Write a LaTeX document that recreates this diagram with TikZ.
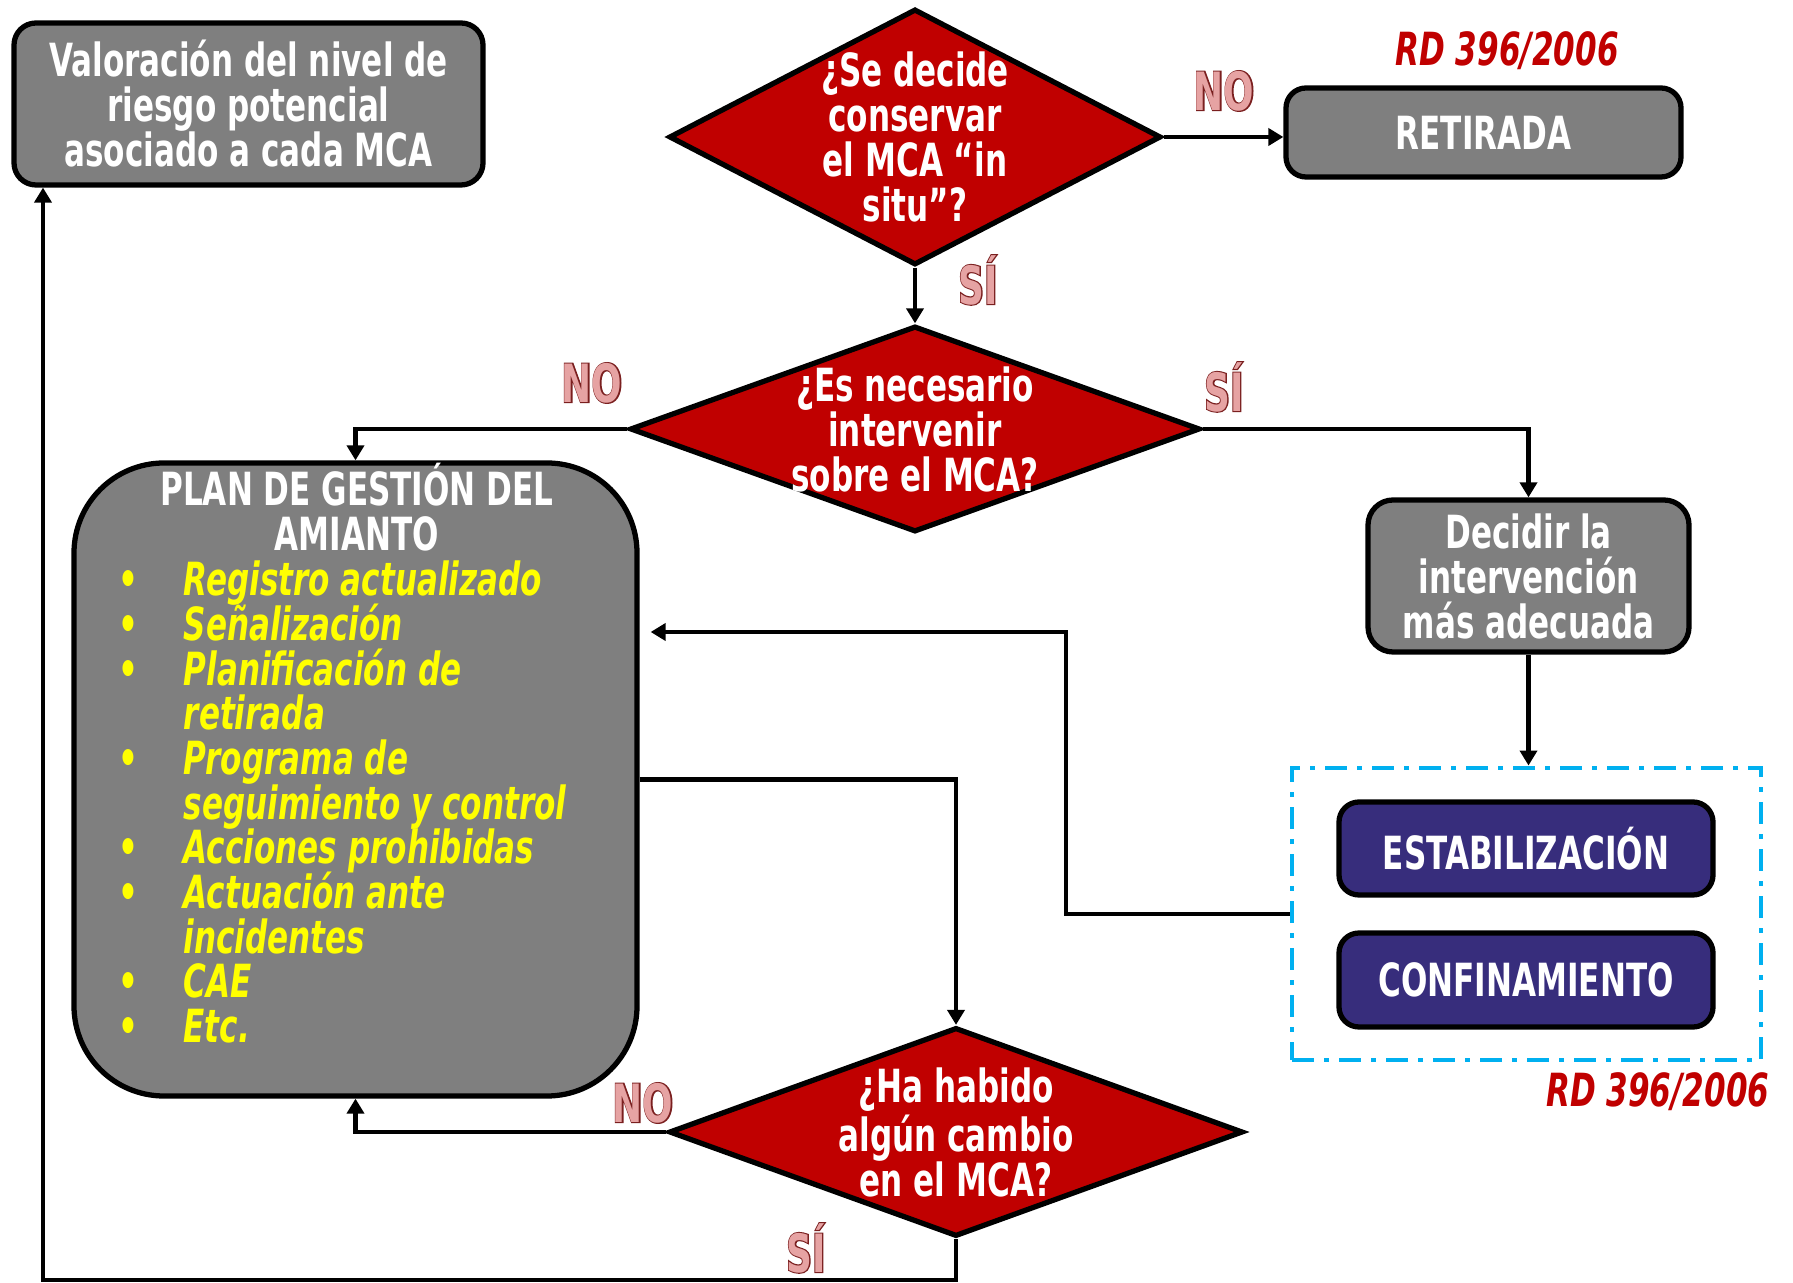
\documentclass[tikz,border=0pt]{standalone}
\usepackage{fontspec}
\setmainfont{DejaVu Sans}[FakeStretch=0.68]
\newfontfamily\lbloutline{DejaVu Sans}[FakeStretch=0.68, FakeBold=4]
\usetikzlibrary{shapes.geometric,positioning,arrows.meta}

\definecolor{boxgray}{HTML}{7F7F7F}
\definecolor{decred}{HTML}{C00000}
\definecolor{plumblue}{HTML}{372D7C}
\definecolor{dashcyan}{HTML}{00B0F0}
\definecolor{itemyellow}{HTML}{FFFF00}
\definecolor{lblfill}{HTML}{E6A3A3}
\definecolor{lbldark}{HTML}{7A1F1F}

\newcommand{\nodefont}{\fontsize{13}{12.8}\selectfont\bfseries}
\newcommand{\lblfont}{\fontsize{15}{15}\selectfont\bfseries}
\newcommand{\yesno}[1]{\makebox[0pt][l]{\color{lbldark}\lbloutline\bfseries #1}#1}
\newcommand{\plbullet}{\makebox[0.61cm][l]{\makebox[0.12cm]{\textbullet}}}
\newcommand{\plindent}{\hspace*{0.61cm}}

\begin{document}
\begin{tikzpicture}[
  box/.style={draw=black, line width=1.5pt, rounded corners=0.22cm, fill=boxgray,
              text=white, align=center, inner sep=0pt, font=\nodefont},
  bluebox/.style={box, fill=plumblue, rounded corners=0.2cm},
  decision/.style={diamond, draw=black, line width=1.5pt, fill=decred, inner sep=0pt},
  txt/.style={text=white, align=center, inner sep=0pt, font=\nodefont},
  rdref/.style={text=decred, inner sep=0pt, font=\nodefont\itshape},
  yesnolbl/.style={inner sep=0pt, text=lblfill, font=\lblfont},
  link/.style={line width=1.35pt},
  arr/.style={link, -{Triangle[length=1.5mm,width=1.7mm]}},
]
  \useasboundingbox (0,0) rectangle (17.93,-12.83);

% left column
  \node[box, minimum width=4.69cm, minimum height=1.62cm] (valor) at (2.485,-1.04)
    {Valoración del nivel de\\riesgo potencial\\asociado a cada MCA};
  \node[box, rounded corners=0.9cm, minimum width=5.63cm, minimum height=6.33cm] (plan) at (3.555,-7.795) {};
  \node[txt, anchor=base] (pltitle) at (3.57,-5.06)
    {\parbox[t]{5.4cm}{\centering\baselineskip=12.7pt\lineskiplimit=-20pt
      PLAN DE GESTIÓN DEL\par AMIANTO\par}};
  \node[txt, text=itemyellow, anchor=base west, font=\nodefont\itshape] (pllist) at (1.22,-5.96)
    {\parbox[t]{5.2cm}{\raggedright\baselineskip=12.7pt\lineskiplimit=-20pt
      \plbullet Registro actualizado\par
      \plbullet Señalización\par
      \plbullet Planificación de\par
      \plindent retirada\par
      \plbullet Programa de\par
      \plindent seguimiento y control\par
      \plbullet Acciones prohibidas\par
      \plbullet Actuación ante\par
      \plindent incidentes\par
      \plbullet CAE\par
      \plbullet Etc.\par}};

% decisions
  \node[decision, minimum width=4.92cm, minimum height=2.56cm] (conserv) at (9.15,-1.37) {};
  \node[txt] (conservtxt) at (conserv.center) {¿Se decide\\conservar\\el MCA “in\\situ”?};
  \node[decision, minimum width=5.70cm, minimum height=2.06cm] (interv) at (9.15,-4.29) {};
  \node[txt] (intervtxt) at (interv.center) {¿Es necesario\\intervenir\\sobre el MCA?};
  \node[decision, minimum width=5.74cm, minimum height=2.09cm] (cambio) at (9.56,-11.32) {};
  \node[txt] (cambiotxt) at (cambio.center) {¿Ha habido\\algún cambio\\en el MCA?};

% right column
  \node[box, rounded corners=0.2cm, minimum width=3.95cm, minimum height=0.89cm] (retir) at (14.835,-1.325) {RETIRADA};
  \node[rdref] (rdtop) at (15.07,-0.51) {RD 396/2006};
  \node[box, rounded corners=0.25cm, minimum width=3.21cm, minimum height=1.52cm] (decide) at (15.285,-5.76)
    {Decidir la\\intervención\\más adecuada};
  \node[draw=dashcyan, line width=1.4pt, dash pattern=on 0.22cm off 0.1cm on 0.05cm off 0.1cm,
        minimum width=4.69cm, minimum height=2.92cm, inner sep=0pt] (dashbox) at (15.265,-9.14) {};
  \node[bluebox, minimum width=3.74cm, minimum height=0.93cm] (estab) at (15.26,-8.485) {ESTABILIZACIÓN};
  \node[bluebox, minimum width=3.74cm, minimum height=0.94cm] (confin) at (15.26,-9.80) {CONFINAMIENTO};
  \node[rdref, anchor=east] (rdbot) at (17.70,-10.92) {RD 396/2006};

% yes / no labels
  \node[yesnolbl] (no1) at (12.24,-0.91) {\yesno{NO}};
  \node[yesnolbl] (si1) at (9.78,-2.80) {\yesno{SÍ}};
  \node[yesnolbl] (no2) at (5.92,-3.83) {\yesno{NO}};
  \node[yesnolbl] (si2) at (12.24,-3.87) {\yesno{SÍ}};
  \node[yesnolbl] (no3) at (6.43,-11.03) {\yesno{NO}};
  \node[yesnolbl] (si3) at (8.06,-12.48) {\yesno{SÍ}};

% connectors
  \coordinate (fbk) at (10.66,-6.32);
  \coordinate (loopc) at (0.43,-12.80);
  \draw[arr] (conserv.east) -- (conserv.east -| retir.west);
  \draw[arr] (conserv.south) -- (interv.north);
  \draw[arr] (interv.west) -| (plan.north);
  \draw[arr] (interv.east) -| (decide.north);
  \draw[arr] (decide.south) -- (decide.south |- dashbox.north);
  \draw[arr, shorten >=0.11cm] (dashbox.west) -| (fbk) -- (fbk -| plan.east);
  \draw[arr] (plan.east) -| (cambio.north);
  \draw[arr] (cambio.west) -| (plan.south);
  \draw[arr] (cambio.south) |- (loopc) -- (loopc |- valor.south);
\end{tikzpicture}
\end{document}
